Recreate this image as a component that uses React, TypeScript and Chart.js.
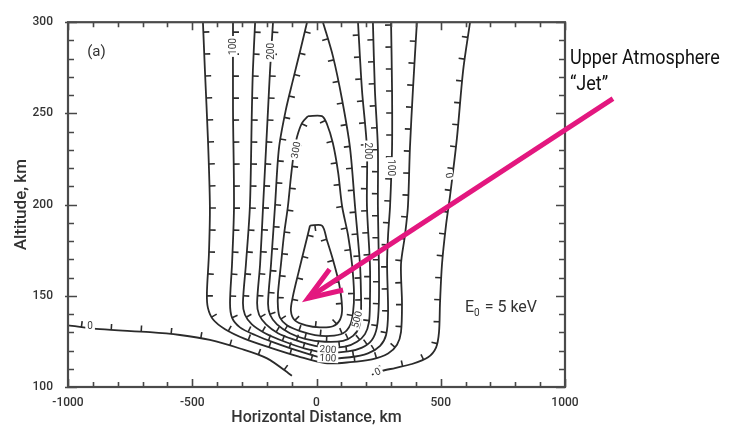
import React, { useEffect, useRef } from "react";
import { Chart, registerables } from "chart.js";

Chart.register(...registerables);

type P = { x: number; y: number };

// axis ticks
const xTickValues = [-1000, -500, 0, 500, 1000];
const yTickValues = [100, 150, 200, 250, 300];
const xMinorStep = 100;
const yMinorStep = 10;

// contour lines (km, km)
const zeroLeft: P[] = [
  { x: -1000, y: 133.8 }, { x: -871, y: 131.7 }, { x: -670, y: 130.1 }, { x: -549, y: 128.5 },
  { x: -429, y: 125.8 }, { x: -308, y: 121.1 }, { x: -199, y: 115.7 }, { x: -99, y: 106.2 },
];
const zeroRight: P[] = [
  { x: 223, y: 106.7 }, { x: 264, y: 108.8 }, { x: 316, y: 110.4 }, { x: 384, y: 112.6 },
  { x: 449, y: 116.3 }, { x: 481, y: 121.6 }, { x: 493, y: 130.1 }, { x: 497, y: 146 },
  { x: 505, y: 167.3 }, { x: 521, y: 188.5 }, { x: 537, y: 204.4 }, { x: 565, y: 236.3 },
  { x: 590, y: 273.5 }, { x: 618, y: 300 },
];
const contour1: P[] = [
  { x: -457, y: 300 }, { x: -449, y: 273.5 }, { x: -437, y: 236.3 }, { x: -429, y: 199.1 },
  { x: -433, y: 172.6 }, { x: -441, y: 151.3 }, { x: -437, y: 143.4 }, { x: -416, y: 137 },
  { x: -368, y: 131.7 }, { x: -288, y: 126.4 }, { x: -187, y: 121.6 }, { x: -74, y: 116.8 },
  { x: 34, y: 113.1 }, { x: 135, y: 113.6 }, { x: 223, y: 115.2 }, { x: 288, y: 118.4 },
  { x: 324, y: 123.2 }, { x: 340, y: 130.1 }, { x: 344, y: 146 }, { x: 340, y: 167.3 },
  { x: 356, y: 183.2 }, { x: 368, y: 199.1 }, { x: 376, y: 231 }, { x: 388, y: 262.8 },
  { x: 404, y: 300 },
];
const contour2: P[] = [
  { x: -336, y: 300 }, { x: -336, y: 252.2 }, { x: -332, y: 199.1 }, { x: -340, y: 167.3 },
  { x: -348, y: 146 }, { x: -340, y: 138 }, { x: -308, y: 132.7 }, { x: -247, y: 128.5 },
  { x: -167, y: 124.2 }, { x: -66, y: 119.5 }, { x: 34, y: 115.7 }, { x: 135, y: 116.3 },
  { x: 207, y: 118.4 }, { x: 256, y: 122.6 }, { x: 280, y: 128.5 }, { x: 288, y: 140.7 },
  { x: 284, y: 167.3 }, { x: 288, y: 183.2 }, { x: 296, y: 199.1 }, { x: 304, y: 231 },
  { x: 304, y: 262.8 }, { x: 300, y: 300 },
];
const contour3: P[] = [
  { x: -247, y: 300 }, { x: -256, y: 273.5 }, { x: -260, y: 252.2 }, { x: -268, y: 199.1 },
  { x: -284, y: 167.3 }, { x: -296, y: 146 }, { x: -288, y: 139.6 }, { x: -260, y: 134.3 },
  { x: -207, y: 129.5 }, { x: -127, y: 124.8 }, { x: -46, y: 121.1 }, { x: 34, y: 118.9 },
  { x: 127, y: 119.5 }, { x: 183, y: 121.6 }, { x: 223, y: 125.8 }, { x: 243, y: 132.7 },
  { x: 251, y: 146 }, { x: 251, y: 167.3 }, { x: 247, y: 199.1 }, { x: 247, y: 231 },
  { x: 235, y: 262.8 }, { x: 227, y: 300 },
];
const contour4: P[] = [
  { x: -175, y: 300 }, { x: -187, y: 273.5 }, { x: -195, y: 252.2 }, { x: -215, y: 199.1 },
  { x: -227, y: 167.3 }, { x: -239, y: 146 }, { x: -231, y: 139.6 }, { x: -203, y: 134.3 },
  { x: -155, y: 129.5 }, { x: -87, y: 125.8 }, { x: -26, y: 123.2 }, { x: 34, y: 121.6 },
  { x: 115, y: 122.1 }, { x: 163, y: 124.8 }, { x: 195, y: 129 }, { x: 211, y: 135.4 },
  { x: 215, y: 146 }, { x: 215, y: 167.3 }, { x: 203, y: 199.1 }, { x: 203, y: 231 },
  { x: 183, y: 262.8 }, { x: 167, y: 300 },
];
const contour5: P[] = [
  { x: -38, y: 300 }, { x: -66, y: 284.1 }, { x: -95, y: 268.1 }, { x: -123, y: 252.2 },
  { x: -151, y: 231 }, { x: -167, y: 199.1 }, { x: -183, y: 167.3 }, { x: -195, y: 146 },
  { x: -187, y: 139.6 }, { x: -159, y: 134.3 }, { x: -107, y: 129.5 }, { x: -46, y: 126.4 },
  { x: 34, y: 124.8 }, { x: 107, y: 125.3 }, { x: 147, y: 128 }, { x: 171, y: 132.7 },
  { x: 179, y: 140.7 }, { x: 179, y: 151.3 }, { x: 175, y: 167.3 }, { x: 155, y: 199.1 },
  { x: 135, y: 231 }, { x: 103, y: 257.5 }, { x: 66, y: 281.4 }, { x: 26, y: 300 },
];
const loop300: P[] = [
  { x: -34, y: 248.5 }, { x: -58, y: 244.8 }, { x: -78, y: 237.3 }, { x: -91, y: 228.3 },
  { x: -103, y: 215 }, { x: -115, y: 199.1 }, { x: -131, y: 183.2 }, { x: -143, y: 167.3 },
  { x: -155, y: 151.3 }, { x: -155, y: 143.4 }, { x: -147, y: 138 }, { x: -119, y: 133.8 },
  { x: -66, y: 130.6 }, { x: -6, y: 128.5 }, { x: 54, y: 128 }, { x: 107, y: 129.5 },
  { x: 135, y: 133.8 }, { x: 147, y: 140.7 }, { x: 151, y: 151.3 }, { x: 143, y: 167.3 },
  { x: 127, y: 183.2 }, { x: 103, y: 199.1 }, { x: 87, y: 217.7 }, { x: 66, y: 233.6 },
  { x: 42, y: 244.2 }, { x: 22, y: 248.5 }, { x: -34, y: 248.5 },
];
const innerLoop: P[] = [
  { x: -26, y: 188.5 }, { x: -50, y: 175.2 }, { x: -74, y: 161.9 }, { x: -95, y: 149.7 },
  { x: -103, y: 141.8 }, { x: -87, y: 136.5 }, { x: -42, y: 133.8 }, { x: 14, y: 132.7 },
  { x: 66, y: 133.3 }, { x: 95, y: 137 }, { x: 103, y: 143.4 }, { x: 91, y: 156.6 },
  { x: 66, y: 169.9 }, { x: 42, y: 180.5 }, { x: 22, y: 188.5 }, { x: -26, y: 188.5 },
];

// contour labels
const contourLabelText = ["100", "200", "300", "200", "100", "0", "500", "200", "100", "0", "0"];
const contourLabelX = [-336, -183, -82, 207, 300, 533, 163, 46, 46, 247, -911];
const contourLabelY = [286.7, 284, 229.9, 229.4, 220.3, 216, 137, 120.5, 115.8, 108.3, 133.3];
const contourLabelAngle = [-90, -90, -80, 90, 90, 80, -75, 4, 3, -25, 0];

// annotations
const arrowTail: P = { x: 1193, y: 258.1 };
const arrowTip: P = { x: -34, y: 148.7 };

const LINE = "#2b2b2b";

function samplePath(meta: any): number[][] {
  const els = meta.data as any[];
  const out: number[][] = [];
  for (let i = 0; i < els.length; i++) {
    const p = els[i];
    if (i === 0) {
      out.push([p.x, p.y]);
      continue;
    }
    const a = els[i - 1];
    const c1x = a.cp2x ?? a.x, c1y = a.cp2y ?? a.y;
    const c2x = p.cp1x ?? p.x, c2y = p.cp1y ?? p.y;
    for (let k = 1; k <= 16; k++) {
      const t = k / 16, u = 1 - t;
      out.push([
        u * u * u * a.x + 3 * u * u * t * c1x + 3 * u * t * t * c2x + t * t * t * p.x,
        u * u * u * a.y + 3 * u * u * t * c1y + 3 * u * t * t * c2y + t * t * t * p.y,
      ]);
    }
  }
  return out;
}

const contourPlugin = {
  id: "contourDecor",
  afterDatasetsDraw(chart: any) {
    const ctx = chart.ctx as CanvasRenderingContext2D;
    const area = chart.chartArea;
    ctx.save();
    ctx.beginPath();
    ctx.rect(area.left, area.top, area.right - area.left, area.bottom - area.top);
    ctx.clip();
    ctx.strokeStyle = LINE;
    ctx.lineWidth = 1.6;
    chart.data.datasets.forEach((ds: any, i: number) => {
      const meta = chart.getDatasetMeta(i);
      const pts = samplePath(meta);
      const spacing = ds.tickSpacing ?? 22;
      const len = 6;
      let acc = spacing * 0.45;
      for (let j = 1; j < pts.length; j++) {
        const dx = pts[j][0] - pts[j - 1][0];
        const dy = pts[j][1] - pts[j - 1][1];
        const L = Math.hypot(dx, dy);
        if (L === 0) continue;
        let t = acc;
        while (t <= L) {
          const px = pts[j - 1][0] + (dx * t) / L;
          const py = pts[j - 1][1] + (dy * t) / L;
          const nx = dy / L, ny = -dx / L;
          ctx.beginPath();
          ctx.moveTo(px, py);
          ctx.lineTo(px + nx * len, py + ny * len);
          ctx.stroke();
          t += spacing;
        }
        acc = t - L;
      }
    });
    // labels
    const xs = chart.scales.x, ys = chart.scales.y;
    ctx.font = "10px Roboto";
    ctx.textAlign = "center";
    ctx.textBaseline = "middle";
    for (let k = 0; k < contourLabelText.length; k++) {
      const px = xs.getPixelForValue(contourLabelX[k]);
      const py = ys.getPixelForValue(contourLabelY[k]);
      ctx.save();
      ctx.translate(px, py);
      ctx.rotate((contourLabelAngle[k] * Math.PI) / 180);
      const w = ctx.measureText(contourLabelText[k]).width;
      ctx.fillStyle = "#ffffff";
      ctx.fillRect(-w / 2 - 2, -4.5, w + 4, 9);
      ctx.fillStyle = "#3a3a3a";
      ctx.fillText(contourLabelText[k], 0, 0.5);
      ctx.restore();
    }
    ctx.restore();
  },
};

const framePlugin = {
  id: "frameDecor",
  afterDraw(chart: any) {
    const ctx = chart.ctx as CanvasRenderingContext2D;
    const { left, right, top, bottom } = chart.chartArea;
    const xs = chart.scales.x, ys = chart.scales.y;
    ctx.save();
    ctx.strokeStyle = "#474747";
    ctx.lineWidth = 1.6;
    for (let v = xs.min; v <= xs.max + 1e-6; v += xMinorStep) {
      const px = Math.round(xs.getPixelForValue(v)) + 0.5;
      const major = xTickValues.includes(Math.round(v));
      const l = major ? 8 : 5;
      ctx.beginPath();
      ctx.moveTo(px, bottom);
      ctx.lineTo(px, bottom - l);
      ctx.moveTo(px, top);
      ctx.lineTo(px, top + l);
      ctx.stroke();
    }
    for (let v = ys.min; v <= ys.max + 1e-6; v += yMinorStep) {
      const py = Math.round(ys.getPixelForValue(v)) + 0.5;
      const major = yTickValues.includes(Math.round(v));
      const l = major ? 9 : 6;
      ctx.beginPath();
      ctx.moveTo(left - (major ? 3 : 0), py);
      ctx.lineTo(left + l, py);
      ctx.moveTo(right, py);
      ctx.lineTo(right - l, py);
      ctx.stroke();
    }
    ctx.lineWidth = 2.2;
    ctx.strokeStyle = "#4a4a4a";
    ctx.strokeRect(left, top, right - left, bottom - top);

    // annotation texts
    const X = (v: number) => xs.getPixelForValue(v);
    const Y = (v: number) => ys.getPixelForValue(v);
    ctx.fillStyle = "#333333";
    ctx.textBaseline = "alphabetic";
    ctx.textAlign = "left";
    ctx.font = "15px Roboto";
    ctx.fillText("(a)", X(-923), Y(281.4));

    ctx.font = "16px Roboto";
    let ex = X(597.6);
    const ey = Y(141.2);
    ctx.fillText("E", ex, ey);
    ex += ctx.measureText("E").width;
    ctx.font = "10px Roboto";
    ctx.fillText("0", ex, ey + 4);
    ex += ctx.measureText("0").width + 1;
    ctx.font = "16px Roboto";
    ctx.fillText(" = 5 keV", ex, ey);

    ctx.fillStyle = "#111111";
    ctx.font = "20px Roboto";
    ctx.save();
    ctx.translate(X(1020), Y(277.2));
    ctx.scale(0.9, 1);
    ctx.fillText("Upper Atmosphere", 0, 0);
    ctx.restore();
    ctx.save();
    ctx.translate(X(1020), Y(262.8));
    ctx.scale(0.9, 1);
    ctx.fillText("\u201cJet\u201d", 0, 0);
    ctx.restore();

    // arrow
    const tx = X(arrowTail.x), ty = Y(arrowTail.y);
    const hx = X(arrowTip.x), hy = Y(arrowTip.y);
    const ang = Math.atan2(ty - hy, tx - hx);
    ctx.strokeStyle = "#e3177f";
    ctx.lineWidth = 5;
    ctx.lineCap = "butt";
    ctx.lineJoin = "miter";
    ctx.beginPath();
    ctx.moveTo(tx, ty);
    ctx.lineTo(hx, hy);
    ctx.stroke();
    const bl = 36, spread = (20 * Math.PI) / 180;
    ctx.beginPath();
    ctx.moveTo(hx + bl * Math.cos(ang - spread), hy + bl * Math.sin(ang - spread));
    ctx.lineTo(hx, hy);
    ctx.lineTo(hx + bl * Math.cos(ang + spread), hy + bl * Math.sin(ang + spread));
    ctx.stroke();
    ctx.restore();
  },
};

const series: { data: P[]; spacing: number }[] = [
  { data: zeroLeft, spacing: 30 },
  { data: zeroRight, spacing: 22 },
  { data: contour1, spacing: 22 },
  { data: contour2, spacing: 22 },
  { data: contour3, spacing: 22 },
  { data: contour4, spacing: 22 },
  { data: contour5, spacing: 22 },
  { data: loop300, spacing: 22 },
  { data: innerLoop, spacing: 22 },
];

export default function App() {
  const ref = useRef<HTMLCanvasElement | null>(null);
  useEffect(() => {
    if (!ref.current) return;
    const tickFont = { family: "Roboto", size: 12, weight: "500" };
    const chart = new Chart(ref.current, {
      type: "line",
      data: {
        datasets: series.map((s) => ({
          data: s.data,
          tickSpacing: s.spacing,
          borderColor: LINE,
          borderWidth: 1.8,
          pointRadius: 0,
          pointHoverRadius: 0,
          fill: false,
          tension: 0.3,
        })) as any,
      },
      options: {
        animation: false,
        responsive: true,
        maintainAspectRatio: false,
        events: [],
        layout: { padding: { left: 0, right: 170, top: 10, bottom: 0 } },
        plugins: { legend: { display: false }, tooltip: { enabled: false } },
        scales: {
          x: {
            type: "linear",
            min: -1000,
            max: 1000,
            afterBuildTicks: (s: any) => {
              s.ticks = xTickValues.map((v) => ({ value: v }));
            },
            afterFit: (s: any) => {
              s.height = 43;
            },
            grid: { display: false, drawTicks: false },
            border: { display: false },
            ticks: {
              font: tickFont,
              color: "#333333",
              padding: 9,
              maxRotation: 0,
              autoSkip: false,
              callback: (v: any) => String(v),
            },
            title: {
              display: true,
              text: "Horizontal Distance, km",
              font: { family: "Roboto", size: 16, weight: "500" },
              color: "#333333",
              padding: { top: 0, bottom: 2 },
            },
          },
          y: {
            type: "linear",
            min: 100,
            max: 300,
            afterBuildTicks: (s: any) => {
              s.ticks = yTickValues.map((v) => ({ value: v }));
            },
            afterFit: (s: any) => {
              s.width = 68;
            },
            grid: { display: false, drawTicks: false },
            border: { display: false },
            ticks: {
              font: tickFont,
              color: "#333333",
              padding: 15,
              autoSkip: false,
              callback: (v: any) => String(v),
            },
            title: {
              display: true,
              text: "Altitude, km",
              font: { family: "Roboto", size: 17, weight: "500" },
              color: "#333333",
              padding: { top: 12, bottom: 0 },
            },
          },
        },
      },
      plugins: [contourPlugin, framePlugin],
    } as any);
    return () => chart.destroy();
  }, []);
  return (
    <div style={{ position: "absolute", left: 0, top: 0, width: 735, height: 430, background: "#fff" }}>
      <canvas ref={ref} />
    </div>
  );
}
